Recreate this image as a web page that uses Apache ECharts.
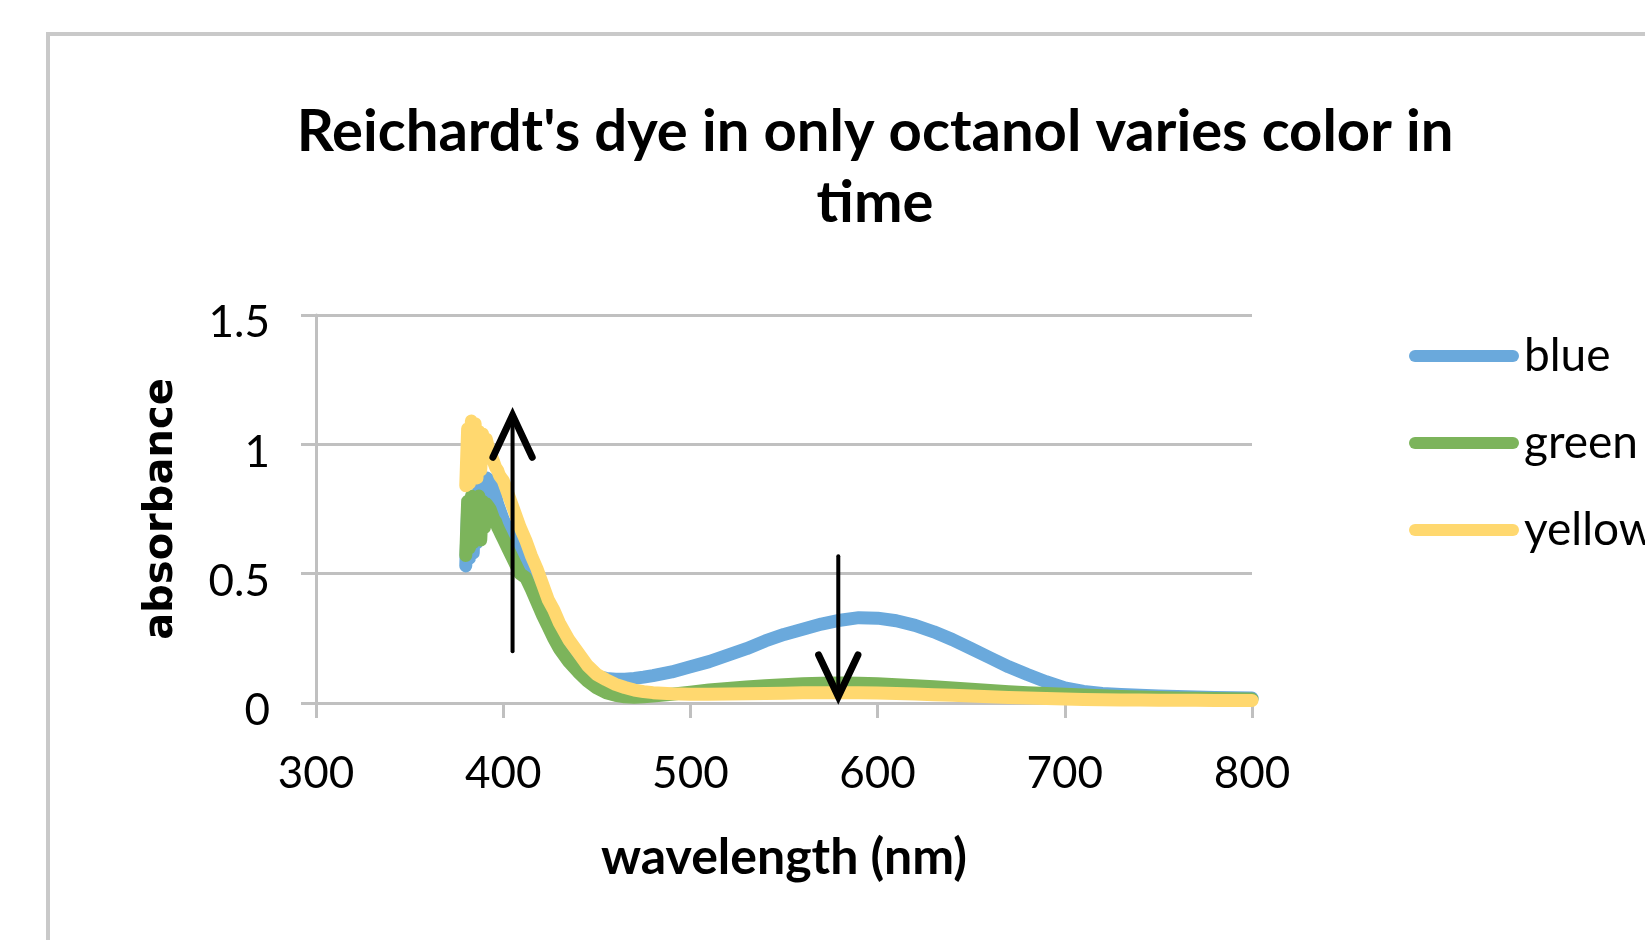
<!DOCTYPE html>
<html lang="en">
<head>
    <meta charset="UTF-8">
    <title>Reichardt's dye in only octanol</title>
    <script src="https://cdn.jsdelivr.net/npm/echarts@6/dist/echarts.min.js"></script>
    <style>
        html, body { margin: 0; padding: 0; background: #fff; }
        #main { width: 1645px; height: 940px; }
    </style>
</head>
<body>
<div id="main"></div>
<script>
    // wavelength (nm), shared by all three spectra
    let wavelengths = [
        380, 381, 382, 383, 384, 385, 386, 387, 388, 389, 390,
        391, 392, 393, 394, 395, 396, 397, 398, 399, 400,
        403, 406, 409, 412, 415, 418, 421, 424, 427, 430,
        435, 440, 445, 450, 455, 460, 465, 470, 475, 480,
        490, 500, 510, 520, 530, 540, 550, 560, 570, 580,
        590, 600, 610, 620, 630, 640, 650, 660, 670, 680,
        690, 700, 710, 720, 730, 740, 750, 760, 770, 780,
        790, 800
    ];

    let blueAbs = [
        0.53, 0.75, 0.56, 0.78, 0.58, 0.80, 0.62, 0.83, 0.66, 0.85, 0.80,
        0.87, 0.87, 0.86, 0.84, 0.82, 0.80, 0.77, 0.75, 0.73, 0.71,
        0.66, 0.61, 0.56, 0.52, 0.48, 0.43, 0.38, 0.33, 0.29, 0.25,
        0.195, 0.15, 0.12, 0.103, 0.095, 0.092, 0.092, 0.095, 0.10, 0.106,
        0.12, 0.14, 0.16, 0.185, 0.21, 0.24, 0.265, 0.285, 0.305, 0.32,
        0.33, 0.328, 0.318, 0.30, 0.275, 0.245, 0.21, 0.175, 0.14, 0.11,
        0.082, 0.058, 0.045, 0.037, 0.033, 0.03, 0.027, 0.025, 0.023, 0.021,
        0.02, 0.019
    ];

    let greenAbs = [
        0.57, 0.78, 0.60, 0.80, 0.62, 0.79, 0.64, 0.80, 0.63, 0.78, 0.68,
        0.77, 0.76, 0.75, 0.73, 0.71, 0.70, 0.68, 0.665, 0.65, 0.635,
        0.59, 0.545, 0.50, 0.485, 0.44, 0.39, 0.34, 0.295, 0.25, 0.21,
        0.16, 0.12, 0.085, 0.058, 0.04, 0.03, 0.024, 0.022, 0.024, 0.027,
        0.034, 0.042, 0.05, 0.056, 0.062, 0.067, 0.071, 0.074, 0.076, 0.077,
        0.076, 0.074, 0.071, 0.067, 0.063, 0.058, 0.053, 0.048, 0.044, 0.04,
        0.037, 0.034, 0.031, 0.028, 0.025, 0.023, 0.021, 0.019, 0.018, 0.017,
        0.016, 0.015
    ];

    let yellowAbs = [
        0.84, 1.06, 0.85, 1.09, 0.88, 1.08, 0.87, 1.05, 0.90, 1.04, 0.95,
        1.02, 0.99, 0.97, 0.95, 0.93, 0.91, 0.90, 0.88, 0.87, 0.86,
        0.80, 0.74, 0.68, 0.63, 0.57, 0.52, 0.46, 0.40, 0.36, 0.31,
        0.245, 0.195, 0.145, 0.11, 0.09, 0.072, 0.06, 0.05, 0.044, 0.04,
        0.036, 0.034, 0.034, 0.035, 0.036, 0.037, 0.038, 0.04, 0.04, 0.04,
        0.04, 0.039, 0.037, 0.035, 0.032, 0.03, 0.027, 0.024, 0.021, 0.019,
        0.017, 0.015, 0.014, 0.013, 0.012, 0.012, 0.011, 0.011, 0.011, 0.01,
        0.01, 0.01
    ];

    let seriesNames = ['blue', 'green', 'yellow'];
    let seriesColors = ['#6aa9dc', '#7cb45b', '#ffd86f'];

    // hand-drawn arrows, in data units (nm, absorbance)
    let upArrowShaft = [[405, 0.2], [405, 1.1]];
    let upArrowHead = [[394.5, 0.95], [405, 1.112], [415.5, 0.95]];
    let downArrowShaft = [[579, 0.567], [579, 0.03]];
    let downArrowHead = [[568.5, 0.186], [579, 0.025], [589.5, 0.186]];

    let xTicks = [300, 400, 500, 600, 700, 800];
    let yTicks = [0, 0.5, 1, 1.5];

    let face = "Lato, 'Open Sans', sans-serif";
    let gridGray = '#c0c0c0';

    let chart = echarts.init(document.getElementById('main'), null, {renderer: 'canvas'});

    let spectra = [blueAbs, greenAbs, yellowAbs].map((vals, k) => ({
        name: seriesNames[k],
        type: 'line',
        showSymbol: false,
        symbol: 'none',
        clip: false,
        silent: true,
        z: 2 + k,
        lineStyle: {width: 13, color: seriesColors[k], cap: 'round', join: 'round'},
        itemStyle: {color: seriesColors[k]},
        data: wavelengths.map((w, i) => [w, vals[i]])
    }));

    function arrowPart(pts, width) {
        return {
            type: 'line',
            showSymbol: false,
            symbol: 'none',
            clip: false,
            silent: true,
            z: 10,
            lineStyle: {width: width, color: '#000', cap: 'round', join: 'miter'},
            data: pts
        };
    }

    let option = {
        animation: false,
        backgroundColor: '#fff',
        graphic: [
            {
                type: 'rect',
                shape: {x: 48, y: 34, width: 1700, height: 1000},
                style: {fill: 'none', stroke: '#c9c9c9', lineWidth: 4},
                silent: true
            },
            {
                type: 'text',
                x: 875,
                y: 97,
                style: {
                    text: "Reichardt's dye in only octanol varies color in\ntime",
                    font: 'bold 58px ' + face,
                    fill: '#000',
                    textAlign: 'center',
                    textVerticalAlign: 'top',
                    lineHeight: 71
                },
                silent: true
            }
        ],
        grid: {
            left: 316,
            right: 393,
            top: 315,
            bottom: 237,
            containLabel: false,
            outerBoundsMode: 'none'
        },
        legend: {
            data: seriesNames,
            orient: 'vertical',
            left: 1404,
            top: 325,
            itemWidth: 110,
            itemHeight: 13,
            itemGap: 35,
            icon: 'path://M6,0 H104 A6,6 0 0 1 104,12 H6 A6,6 0 0 1 6,0 Z',
            textStyle: {fontSize: 46, lineHeight: 40, color: '#000', fontFamily: face, padding: [12, 0, 0, 0]},
            selectedMode: false
        },
        xAxis: {
            type: 'value',
            min: xTicks[0],
            max: xTicks[xTicks.length - 1],
            interval: 100,
            name: 'wavelength (nm)',
            nameLocation: 'middle',
            nameGap: 130,
            nameTextStyle: {fontSize: 50, fontWeight: 'bold', color: '#000', fontFamily: face},
            axisLine: {show: true, lineStyle: {color: gridGray, width: 3}},
            axisTick: {show: true, inside: false, length: 15, lineStyle: {color: gridGray, width: 3}},
            axisLabel: {fontSize: 44, color: '#000', margin: 49, fontFamily: face},
            splitLine: {show: false}
        },
        yAxis: {
            type: 'value',
            min: yTicks[0],
            max: yTicks[yTicks.length - 1],
            interval: 0.5,
            name: 'absorbance',
            nameLocation: 'middle',
            nameGap: 134,
            nameTextStyle: {fontSize: 40, fontWeight: 'bold', color: '#000', fontFamily: "'DejaVu Sans', sans-serif"},
            axisLine: {show: true, lineStyle: {color: gridGray, width: 3}},
            axisTick: {show: true, inside: false, length: 15, lineStyle: {color: gridGray, width: 3}},
            axisLabel: {fontSize: 44, color: '#000', margin: 46, fontFamily: face, verticalAlign: 'top', lineHeight: 16},
            splitLine: {show: true, lineStyle: {color: gridGray, width: 3}}
        },
        series: spectra.concat([
            arrowPart(upArrowShaft, 4),
            arrowPart(upArrowHead, 7),
            arrowPart(downArrowShaft, 4),
            arrowPart(downArrowHead, 7)
        ])
    };

    chart.setOption(option);
</script>
</body>
</html>
